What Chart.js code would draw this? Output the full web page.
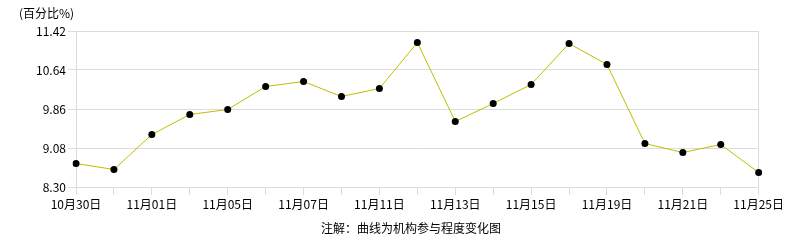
<!DOCTYPE html>
<html>
<head>
<meta charset="utf-8">
<script src="https://cdn.jsdelivr.net/npm/chart.js@4/dist/chart.umd.min.js"></script>
<style>
  html, body { margin: 0; padding: 0; background: #fff; }
  #wrap { width: 786px; height: 240px; }
</style>
</head>
<body>
<div id="wrap"><canvas id="c" width="786" height="240"></canvas></div>
<script>
// data
const dates = ['10月30日', '10月31日', '11月01日', '11月04日', '11月05日', '11月06日', '11月07日', '11月08日',
  '11月11日', '11月12日', '11月13日', '11月14日', '11月15日', '11月18日', '11月19日', '11月20日',
  '11月21日', '11月22日', '11月25日'];
const values = [8.77, 8.65, 9.35, 9.75, 9.85, 10.31, 10.41, 10.11, 10.27, 11.19, 9.61, 9.97, 10.35,
  11.17, 10.75, 9.17, 8.99, 9.15, 8.59];
const yTicks = [8.30, 9.08, 9.86, 10.64, 11.42];

const unitLabel = '(百分比%)';
const footNote = '注解：曲线为机构参与程度变化图';

const FONT = "'Noto Sans CJK SC', 'DejaVu Sans', sans-serif";
const gridColor = '#dcdcdc';

// plain text on the canvas: unit at top-left, note at bottom
const textPlugin = {
  id: 'texts',
  afterDraw(chart) {
    const ctx = chart.ctx;
    ctx.save();
    ctx.fillStyle = '#000';
    ctx.font = '12px ' + FONT;
    ctx.textBaseline = 'middle';
    ctx.textAlign = 'left';
    ctx.fillText(unitLabel, 19, 13);
    ctx.textAlign = 'center';
    ctx.fillText(footNote, 411, 228);
    ctx.restore();
  }
};

const last = dates.length - 1;

new Chart(document.getElementById('c'), {
  type: 'line',
  data: {
    labels: dates,
    datasets: [{
      data: values,
      borderColor: '#bebe00',
      borderWidth: 1,
      tension: 0,
      pointRadius: 3.5,
      pointBackgroundColor: '#000',
      pointBorderWidth: 0,
      pointHoverRadius: 3.5
    }]
  },
  options: {
    responsive: false,
    animation: false,
    layout: { padding: { top: 31, right: 26, bottom: 0, left: 0 } },
    plugins: { legend: { display: false }, tooltip: { enabled: false } },
    scales: {
      x: {
        offset: false,
        grid: {
          color: c => (c.index === 0 || c.index === last) ? gridColor : 'rgba(0,0,0,0)',
          tickColor: gridColor,
          tickLength: 8
        },
        border: { color: gridColor },
        ticks: {
          autoSkip: false,
          maxRotation: 0,
          padding: 2,
          color: '#000',
          font: { family: FONT, size: 12 },
          callback: (v, i) => (i % 2 === 0 ? dates[i] : '')
        },
        afterFit: s => { s.height = 53; }
      },
      y: {
        min: yTicks[0],
        max: yTicks[yTicks.length - 1],
        afterBuildTicks: s => { s.ticks = yTicks.map(v => ({ value: v })); },
        grid: { color: gridColor, tickColor: gridColor, tickLength: 8 },
        border: { color: gridColor },
        ticks: {
          padding: 2,
          color: '#000',
          font: { family: FONT, size: 12 },
          callback: v => Number(v).toFixed(2)
        },
        afterFit: s => { s.width = 76; }
      }
    }
  },
  plugins: [textPlugin]
});
</script>
</body>
</html>
